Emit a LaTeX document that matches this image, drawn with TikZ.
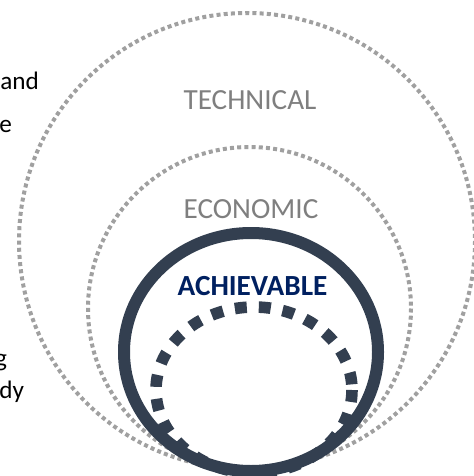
\documentclass[tikz,border=0pt]{standalone}
\usepackage{fontspec}
\setmainfont{Carlito}
\usetikzlibrary{positioning}
\definecolor{ringdark}{HTML}{333F50}
\definecolor{dotgray}{HTML}{A0A0A0}
\definecolor{labelgray}{HTML}{7F7F7F}
\definecolor{achnavy}{HTML}{002060}

\begin{document}
\begin{tikzpicture}[
  x=0.5pt, y=-0.5pt,
  every node/.style={inner sep=0pt, font=\fontsize{14.6}{17}\selectfont},
  dotring/.style={draw=dotgray, line width=2pt, dash pattern=on 2pt off 1.6pt},
  solidring/.style={draw=ringdark, line width=6pt},
  dashring/.style={draw=ringdark, line width=5.8pt, dash pattern=on 6pt off 6pt},
  zone/.style={text=labelgray},
  core/.style={text=achnavy, font=\bfseries\fontsize{14.6}{17}\selectfont},
  sidetext/.style={text=black, font=\fontsize{12.6}{15}\selectfont}
]
\useasboundingbox (0,0) rectangle (474,476);
\clip (0,0) rectangle (474,476);

% centres of the nested rings
\coordinate (technical) at (247,241);
\coordinate (economic) at (249.5,308.5);
\coordinate (achievable) at (251,352);
\coordinate (potential) at (254,390);

\draw[dotring] (technical) ellipse [x radius=228, y radius=228];
\draw[dotring] (economic) ellipse [x radius=161.5, y radius=161.5];
\draw[dashring] (potential) ellipse [x radius=98, y radius=83];
\draw[solidring] (achievable) ellipse [x radius=127, y radius=119];

% ring labels
\node[zone, anchor=base] (techlabel) at (250,110) {TECHNICAL};
\node[zone, anchor=base] (econlabel) at (251,218) {ECONOMIC};
\node[core, anchor=base] (achlabel) at (252.5,295) {ACHIEVABLE};

% text running in from the left edge
\node[sidetext, anchor=base west] (sideA) at (0,90) {and};
\node[sidetext, anchor=base west] (sideB) at (-1,133) {e};
\node[sidetext, anchor=base east] (sideC) at (7.5,366) {g};
\node[sidetext, anchor=base west] (sideD) at (-1,398) {dy};
\end{tikzpicture}
\end{document}
